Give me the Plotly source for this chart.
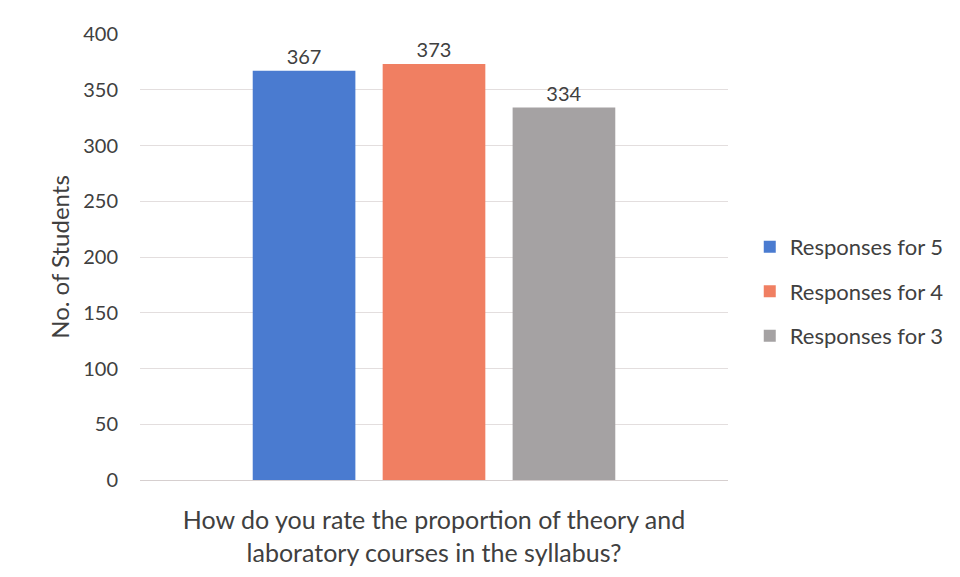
import plotly.graph_objects as go

category = ["How do you rate the proportion of theory and<br>laboratory courses in the syllabus?"]
series_names = ["Responses for 5", "Responses for 4", "Responses for 3"]
series_values = [[367], [373], [334]]
colors = ["#4a7bd0", "#f07f62", "#a5a2a3"]
y_ticks = [0, 50, 100, 150, 200, 250, 300, 350, 400]

FONT = "Lato, 'Open Sans', sans-serif"
TXT = "#404040"

fig = go.Figure()
for i, (name, vals) in enumerate(zip(series_names, series_values)):
    fig.add_trace(go.Bar(
        x=category, y=vals, name=name,
        marker=dict(color=colors[i], line=dict(width=0)),
        text=[str(v) for v in vals], textposition="outside",
        textfont=dict(size=20, color=TXT, family=FONT),
        cliponaxis=False, legendgroup=f"g{i}",
    ))

fig.update_layout(
    width=952, height=569,
    paper_bgcolor="white", plot_bgcolor="white",
    margin=dict(l=132, r=232, t=26, b=97, autoexpand=False),
    barmode="group", bargap=0.337, bargroupgap=0.21,
    font=dict(family=FONT, color=TXT, size=20),
    legend=dict(x=1.037, y=0.423, xanchor="left", yanchor="middle",
                font=dict(size=22, color=TXT, family=FONT),
                traceorder="grouped", tracegroupgap=13,
                bgcolor="rgba(0,0,0,0)"),
    showlegend=True,
)
fig.update_yaxes(range=[0, 400], tickvals=y_ticks, showgrid=True,
                 gridcolor="#e3dede", gridwidth=1, zeroline=False,
                 showline=False, ticks="", ticklabelstandoff=21,
                 tickfont=dict(size=20, color=TXT),
                 title=dict(text="No. of Students", font=dict(size=24, color=TXT), standoff=6))
fig.update_xaxes(showline=True, linecolor="#d6cfcf", linewidth=1,
                 ticks="", ticklabelstandoff=18,
                 tickfont=dict(size=25, color=TXT))

fig.write_html("out.html")
